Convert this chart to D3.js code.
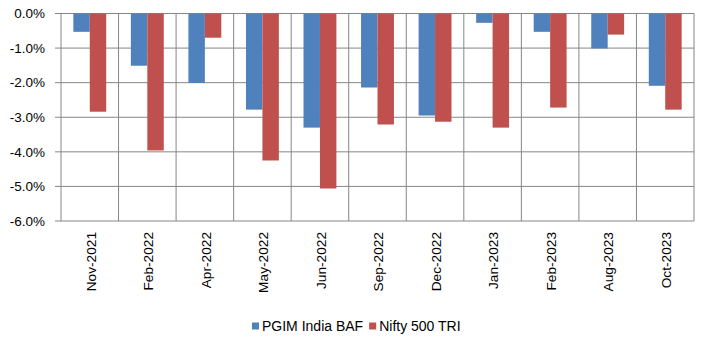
<!DOCTYPE html>
<html>
<head>
<meta charset="utf-8">
<script src="https://cdn.jsdelivr.net/npm/d3@7"></script>
<style>
  body { margin: 0; background: #fff; }
  text { font-family: "Liberation Sans", Arial, sans-serif; fill: #000; }
</style>
</head>
<body>
<div id="chart"></div>
<script>
var months = ["Nov-2021", "Feb-2022", "Apr-2022", "May-2022", "Jun-2022", "Sep-2022",
              "Dec-2022", "Jan-2023", "Feb-2023", "Aug-2023", "Oct-2023"];
var seriesNames = ["PGIM India BAF", "Nifty 500 TRI"];
var pgimBaf  = [-0.53, -1.51, -2.01, -2.78, -3.30, -2.14, -2.95, -0.27, -0.53, -1.01, -2.09];
var nifty500 = [-2.84, -3.96, -0.70, -4.25, -5.06, -3.21, -3.13, -3.30, -2.72, -0.61, -2.78];
var yTicks = [0, -1, -2, -3, -4, -5, -6];
var colors = ["#4F81BD", "#C0504D"];

var svgWidth = 703;
var svgHeight = 339;

var margin = { top: 13.5, right: 9, bottom: 118, left: 61 };
var width  = svgWidth  - margin.left - margin.right;
var height = svgHeight - margin.top  - margin.bottom;

var svg = d3.select("#chart")
  .append("svg")
  .attr("width", svgWidth)
  .attr("height", svgHeight);

var chartGroup = svg.append("g")
  .attr("transform", `translate(${margin.left}, ${margin.top})`);

var x0 = d3.scaleBand()
  .domain(months)
  .range([0, width])
  .paddingInner(0)
  .paddingOuter(0);

// bars take 2/3.5 of each category (150% gap)
var barW = x0.bandwidth() / 3.5;
var x1 = d3.scaleBand()
  .domain([0, 1])
  .range([barW * 0.75, barW * 2.75]);

var y = d3.scaleLinear()
  .domain([-6, 0])
  .range([height, 0]);

// horizontal gridlines + left ticks
chartGroup.selectAll(".hgrid")
  .data(yTicks)
  .enter()
  .append("line")
  .attr("x1", -6)
  .attr("x2", width)
  .attr("y1", d => y(d))
  .attr("y2", d => y(d))
  .attr("stroke", "#868686")
  .attr("stroke-width", 1);

// vertical gridlines
chartGroup.selectAll(".vgrid")
  .data(d3.range(months.length + 1))
  .enter()
  .append("line")
  .attr("x1", d => d * x0.step())
  .attr("x2", d => d * x0.step())
  .attr("y1", 0)
  .attr("y2", height)
  .attr("stroke", "#868686")
  .attr("stroke-width", 1);

// y labels
chartGroup.selectAll(".ylabel")
  .data(yTicks)
  .enter()
  .append("text")
  .attr("x", -16)
  .attr("y", d => y(d))
  .attr("dy", "0.35em")
  .attr("text-anchor", "end")
  .attr("font-size", "13.5px")
  .text(d => d.toFixed(1) + "%");

// bars
var series = [pgimBaf, nifty500];
series.forEach(function(vals, si) {
  chartGroup.selectAll(".bar" + si)
    .data(vals)
    .enter()
    .append("rect")
    .attr("x", (d, i) => x0(months[i]) + x1(si))
    .attr("width", x1.bandwidth())
    .attr("y", d => y(0))
    .attr("height", d => y(d) - y(0))
    .attr("fill", colors[si]);
});

// x labels, rotated
chartGroup.selectAll(".xlabel")
  .data(months)
  .enter()
  .append("text")
  .attr("transform", d => `translate(${x0(d) + x0.bandwidth() / 2 + 1}, ${height + 11}) rotate(-90)`)
  .attr("dy", "0.35em")
  .attr("text-anchor", "end")
  .attr("font-size", "13.7px")
  .text(d => d);

// legend
var legend = svg.append("g")
  .attr("transform", "translate(252, 326)");

var lx = 0;
seriesNames.forEach(function(name, i) {
  legend.append("rect")
    .attr("x", lx)
    .attr("y", -3.5)
    .attr("width", 7)
    .attr("height", 7)
    .attr("fill", colors[i]);
  var t = legend.append("text")
    .attr("x", lx + 10)
    .attr("y", 0)
    .attr("dy", "0.35em")
    .attr("font-size", "14px")
    .text(name);
  lx += 10 + t.node().getComputedTextLength() + 6;
});
</script>
</body>
</html>
